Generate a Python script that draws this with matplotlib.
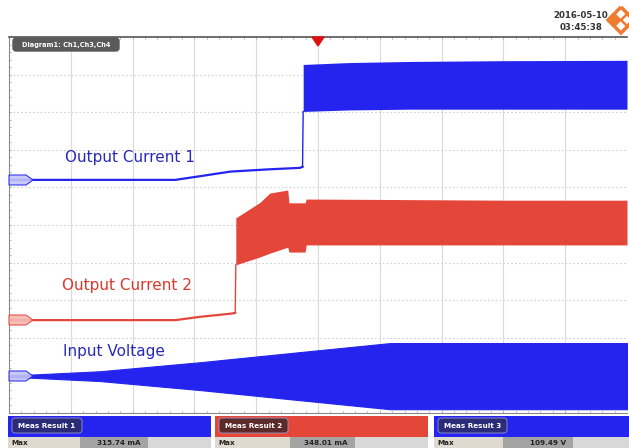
import matplotlib
matplotlib.use("Agg")
import matplotlib.pyplot as plt
from matplotlib.patches import Rectangle, FancyBboxPatch, Polygon
import numpy as np

# ---------------- data (x in divisions 0..10, y in divisions 0..10) ----------------
# Output Current 1 (blue): thin line, then band after the step
c1_line_x = [0.0, 2.69, 3.10, 3.58, 4.20, 4.71, 4.75]
c1_line_y = [6.20, 6.20, 6.30, 6.42, 6.48, 6.52, 6.55]
c1_band_x = [4.76, 5.50, 6.50, 8.00, 10.0]
c1_band_top = [9.27, 9.32, 9.35, 9.37, 9.38]
c1_band_bot = [8.02, 8.06, 8.08, 8.08, 8.08]

# Output Current 2 (red)
c2_line_x = [0.0, 2.69, 3.10, 3.58, 3.66]
c2_line_y = [2.47, 2.47, 2.56, 2.64, 2.66]
c2_band_x = [3.67, 4.06, 4.22, 4.51, 4.53, 4.79, 4.81, 6.00, 8.00, 10.0]
c2_band_top = [5.19, 5.60, 5.85, 5.93, 5.59, 5.59, 5.69, 5.68, 5.66, 5.66]
c2_band_bot = [3.94, 4.15, 4.25, 4.41, 4.28, 4.28, 4.47, 4.47, 4.47, 4.47]

# Input Voltage (blue): envelope around its reference level
v_center = 0.98
v_x = [0.0, 0.34, 1.47, 3.09, 4.71, 6.17, 8.00, 10.0]
v_half = [0.03, 0.04, 0.13, 0.37, 0.64, 0.88, 0.88, 0.88]

labels = ["Output Current 1", "Output Current 2", "Input Voltage"]
meas_names = ["Meas Result 1", "Meas Result 2", "Meas Result 3"]
meas_values = ["315.74 mA", "348.01 mA", "109.49 V"]
date_text = ["2016-05-10", "03:45:38"]

BLUE = "#2424ee"
RED = "#e5463a"
BLUE_TXT = "#2a2ab8"
RED_TXT = "#d83a2c"

W, H = 629, 448
fig = plt.figure(figsize=(W / 100, H / 100), dpi=100)
fig.patch.set_facecolor("white")

# plot area in pixels: x 9..627, y 37..413
L, R, T, B = 9, 627, 37, 413
ax = fig.add_axes([L / W, (H - B) / H, (R - L) / W, (B - T) / H])
ax.set_xlim(0, 10)
ax.set_ylim(0, 10)
ax.set_xticks([])
ax.set_yticks([])
ax.spines["right"].set_visible(False)
ax.spines["top"].set_color("#555555")
ax.spines["top"].set_linewidth(1.2)
ax.spines["left"].set_color("#8a8a8a")
ax.spines["bottom"].set_color("#8a8a8a")

# grid
for i in range(1, 10):
    ax.axvline(i, color="#dadada", lw=0.8, zorder=0)
    ax.axhline(i, color="#d0d0d0", lw=0.8, ls=(0, (1.5, 2.0)), zorder=0)
# minor ticks on borders
for k in np.arange(0, 10.01, 0.2):
    ax.plot([k, k], [10, 9.94], color="#aaaaaa", lw=0.5, zorder=0)
    ax.plot([k, k], [0, 0.06], color="#aaaaaa", lw=0.5, zorder=0)
    ax.plot([0, 0.04], [k, k], color="#aaaaaa", lw=0.5, zorder=0)

# traces
ax.plot(c1_line_x, c1_line_y, color=BLUE, lw=1.6, zorder=3)
ax.plot([c1_line_x[-1], c1_band_x[0]], [c1_line_y[-1], c1_band_bot[0]], color=BLUE, lw=1.0, zorder=3)
ax.fill_between(c1_band_x, c1_band_bot, c1_band_top, color=BLUE, lw=0, zorder=3)

ax.plot(c2_line_x, c2_line_y, color=RED, lw=1.6, zorder=3)
ax.plot([c2_line_x[-1], c2_band_x[0]], [c2_line_y[-1], c2_band_bot[0]], color=RED, lw=1.0, zorder=3)
ax.fill_between(c2_band_x, c2_band_bot, c2_band_top, color=RED, lw=0, zorder=3)

vx = np.array(v_x)
vh = np.array(v_half)
ax.fill_between(vx, v_center - vh, v_center + vh, color=BLUE, lw=0.8, edgecolor=BLUE, zorder=3)

# trace labels
ax.text(0.90, 6.80, labels[0], color=BLUE_TXT, fontsize=11, ha="left", va="center", zorder=5)
ax.text(0.85, 3.39, labels[1], color=RED_TXT, fontsize=11, ha="left", va="center", zorder=5)
ax.text(0.88, 1.63, labels[2], color=BLUE_TXT, fontsize=11, ha="left", va="center", zorder=5)

# ---------------- overlay in pixel coordinates ----------------
ov = fig.add_axes([0, 0, 1, 1], zorder=10)
ov.set_xlim(0, W)
ov.set_ylim(H, 0)
ov.axis("off")
ov.patch.set_alpha(0)

# trigger marker
ov.add_patch(Polygon([[312, 37], [324, 37], [318, 46]], closed=True, color="#e01010"))

# left reference markers
for yy, col, fc in [(180, BLUE, "#c4c4f8"), (320, RED, "#f6b8b0"), (376, BLUE, "#c4c4f8")]:
    ov.add_patch(Polygon([[9, yy - 5], [26, yy - 5], [33, yy], [26, yy + 5], [9, yy + 5]],
                         closed=True, fc=fc, ec=col, lw=0.8, alpha=0.9, zorder=4))

# diagram tab
ov.add_patch(FancyBboxPatch((13, 38), 106, 13, boxstyle="round,pad=0,rounding_size=3",
                            fc="#5a5a5a", ec="#5a5a5a"))
ov.text(66, 45, "Diagram1: Ch1,Ch3,Ch4", color="white", fontsize=4.8, fontweight="bold",
        ha="center", va="center")

# date/time
ov.text(581, 16, date_text[0], color="#333333", fontsize=6.2, fontweight="bold", ha="center", va="center")
ov.text(581, 27, date_text[1], color="#333333", fontsize=6.2, fontweight="bold", ha="center", va="center")

# logo (orange diamond shapes)
cx, cy = 621, 20
OR = "#f07a30"
ov.add_patch(Polygon([[cx, cy - 13], [cx + 13, cy], [cx, cy + 13], [cx - 13, cy]], closed=True,
                     fc="none", ec=OR, lw=2.5))
ov.add_patch(Polygon([[cx - 6, cy - 6], [cx, cy], [cx - 6, cy + 6], [cx - 12, cy]], closed=True,
                     fc=OR, ec=OR, lw=1))
ov.add_patch(Polygon([[cx + 6, cy - 6], [cx + 12, cy], [cx + 6, cy + 6], [cx, cy]], closed=True,
                     fc="none", ec=OR, lw=1.8))

# measurement panels
panels = [
    dict(x0=8, x1=211, bg=BLUE, tab="#2b2b78", tab_x1=82, max_x1=80, val_x1=148),
    dict(x0=215, x1=428, bg=RED, tab="#5c2a28", tab_x1=288, max_x1=290, val_x1=355),
    dict(x0=434, x1=629, bg=BLUE, tab="#2b2b78", tab_x1=507, max_x1=503, val_x1=573),
]
for p, name, val in zip(panels, meas_names, meas_values):
    ov.add_patch(Rectangle((p["x0"], 416), p["x1"] - p["x0"], 21, fc=p["bg"], ec="none"))
    ov.add_patch(FancyBboxPatch((p["x0"] + 4, 418), p["tab_x1"] - p["x0"] - 4, 15,
                                boxstyle="round,pad=0,rounding_size=3",
                                fc=p["tab"], ec="#9a9ac8", lw=0.6))
    ov.text((p["x0"] + 4 + p["tab_x1"]) / 2, 426, name, color="white", fontsize=5.2,
            fontweight="bold", ha="center", va="center")
    ov.add_patch(Rectangle((p["x0"], 437), p["max_x1"] - p["x0"], 11, fc="#dedad0", ec="none"))
    ov.add_patch(Rectangle((p["max_x1"], 437), p["val_x1"] - p["max_x1"], 11, fc="#a4a4a4", ec="none"))
    ov.add_patch(Rectangle((p["val_x1"], 437), p["x1"] - p["val_x1"], 11, fc="#d8d8d8", ec="none"))
    ov.text(p["x0"] + 3, 443, "Max", color="#222222", fontsize=5.2, fontweight="bold",
            ha="left", va="center")
    ov.text(p["val_x1"] - 7, 443, val, color="#222222", fontsize=5.2, fontweight="bold",
            ha="right", va="center")

fig.savefig("out.png", dpi=100, facecolor="white")
